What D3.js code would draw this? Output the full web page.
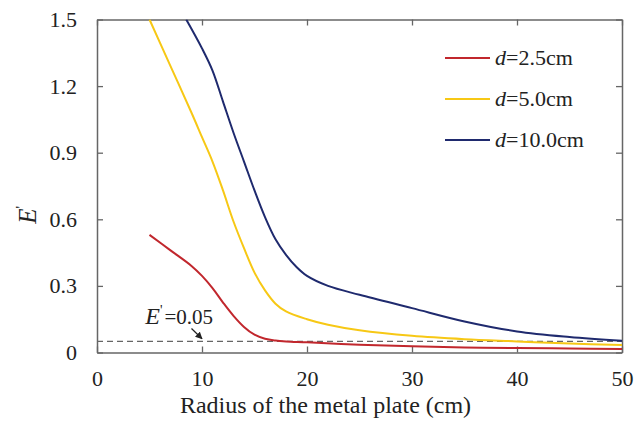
<!DOCTYPE html>
<html>
<head>
<meta charset="utf-8">
<script src="https://cdn.jsdelivr.net/npm/d3@7"></script>
</head>
<body style="margin:0; background:#fff">
<script>
const width = 637;
const height = 422;
const margin = { top: 19.5, right: 15, bottom: 69.5, left: 97 };

// x values (cm) and E' for each plate distance
const xRed = [5, 7, 9, 10, 11, 12, 13, 14, 15, 16, 17, 18, 20, 25, 30, 35, 40, 45, 50];
const yRed = [0.53, 0.46, 0.39, 0.345, 0.29, 0.225, 0.165, 0.115, 0.08, 0.062, 0.054, 0.05, 0.046, 0.035, 0.028, 0.023, 0.02, 0.018, 0.016];

const xYellow = [5, 7, 9, 10, 11, 12, 13, 14, 15, 16, 17, 18, 20, 22, 25, 30, 35, 40, 45, 50];
const yYellow = [1.5, 1.29, 1.08, 0.97, 0.86, 0.73, 0.59, 0.47, 0.36, 0.28, 0.22, 0.185, 0.15, 0.125, 0.1, 0.075, 0.06, 0.05, 0.04, 0.034];

const xBlue = [8.5, 10, 11, 12, 13, 14, 15, 16, 17, 18, 19, 20, 22, 25, 30, 35, 40, 45, 50];
const yBlue = [1.5, 1.37, 1.27, 1.13, 0.99, 0.86, 0.73, 0.61, 0.51, 0.44, 0.385, 0.345, 0.3, 0.26, 0.2, 0.14, 0.095, 0.07, 0.053];

const seriesNames = ['2.5cm', '5.0cm', '10.0cm'];
const colors = ['#c1272d', '#f7c815', '#1f2a6e'];

const xTicks = [0, 10, 20, 30, 40, 50];
const yTicks = [0, 0.3, 0.6, 0.9, 1.2, 1.5];
const threshold = 0.05;

const fontFamily = '"Liberation Serif"';

const series = [
  xRed.map((v, i) => ({ x: v, y: yRed[i] })),
  xYellow.map((v, i) => ({ x: v, y: yYellow[i] })),
  xBlue.map((v, i) => ({ x: v, y: yBlue[i] }))
];

const svg = d3.select('body')
  .append('svg')
  .attr('width', width)
  .attr('height', height);

const x = d3.scaleLinear().domain([0, 50]).range([margin.left, width - margin.right]);
const y = d3.scaleLinear().domain([0, 1.5]).range([height - margin.bottom, margin.top]);

const fmtY = (d) => d === 0 ? '0' : d3.format('.1f')(d);

svg.append('defs').append('clipPath')
  .attr('id', 'clip')
  .append('rect')
  .attr('x', x(0))
  .attr('y', y(1.5))
  .attr('width', x(50) - x(0))
  .attr('height', y(0) - y(1.5));

// axes, ticks inward on all four sides
const axisColor = '#666';
function styleAxis(g) {
  g.attr('font-family', null).attr('font-size', null);
  g.select('.domain').attr('stroke', axisColor).attr('stroke-width', 1.5);
  g.selectAll('.tick line').attr('stroke', axisColor).attr('stroke-width', 1.3);
}

svg.append('g')
  .attr('transform', `translate(0, ${y(0)})`)
  .call(d3.axisBottom(x).tickValues(xTicks).tickSizeInner(-6).tickSizeOuter(0).tickPadding(18))
  .call(styleAxis)
  .call((g) => g.selectAll('.tick text').attr('font-size', 22));

svg.append('g')
  .attr('transform', `translate(0, ${y(1.5)})`)
  .call(d3.axisTop(x).tickValues(xTicks).tickSizeInner(-6).tickSizeOuter(0).tickFormat(''))
  .call(styleAxis);

svg.append('g')
  .attr('transform', `translate(${x(0)}, 0)`)
  .call(d3.axisLeft(y).tickValues(yTicks).tickSizeInner(-6).tickSizeOuter(0).tickPadding(20).tickFormat(fmtY))
  .call(styleAxis)
  .call((g) => g.selectAll('.tick text').attr('font-size', 22));

svg.append('g')
  .attr('transform', `translate(${x(50)}, 0)`)
  .call(d3.axisRight(y).tickValues(yTicks).tickSizeInner(-6).tickSizeOuter(0).tickFormat(''))
  .call(styleAxis);

// threshold line
svg.append('line')
  .attr('x1', x(0))
  .attr('x2', x(50))
  .attr('y1', y(threshold))
  .attr('y2', y(threshold))
  .attr('stroke', '#666')
  .attr('stroke-width', 1.4)
  .attr('stroke-dasharray', '6,4');

// curves
const line = d3.line()
  .x((d) => x(d.x))
  .y((d) => y(d.y))
  .curve(d3.curveCatmullRom.alpha(0.5));

svg.append('g')
  .attr('clip-path', 'url(#clip)')
  .selectAll('path')
  .data(series)
  .enter()
  .append('path')
  .attr('d', line)
  .attr('fill', 'none')
  .attr('stroke', (d, i) => colors[i])
  .attr('stroke-width', 2);

// annotation E'=0.05 with arrow
const ann = svg.append('text')
  .attr('x', x(4.6))
  .attr('y', y(0.13))
  .attr('font-size', 21);
ann.append('tspan').attr('font-style', 'italic').attr('font-size', 24).text('E');
ann.append('tspan').attr('font-size', 14).attr('dy', -9).text("'");
ann.append('tspan').attr('dy', 9).attr('dx', 2).text('=0.05');

svg.append('defs').append('marker')
  .attr('id', 'arrow')
  .attr('viewBox', '0 0 10 10')
  .attr('refX', 9)
  .attr('refY', 5)
  .attr('markerWidth', 6)
  .attr('markerHeight', 6)
  .attr('orient', 'auto')
  .append('path')
  .attr('d', 'M0,0 L10,5 L0,10 z')
  .attr('fill', '#222');

svg.append('line')
  .attr('x1', x(9.0))
  .attr('y1', y(0.108))
  .attr('x2', x(10.0))
  .attr('y2', y(0.062))
  .attr('stroke', '#222')
  .attr('stroke-width', 1.2)
  .attr('marker-end', 'url(#arrow)');

// legend
const legend = svg.append('g');
seriesNames.forEach((name, i) => {
  const ly = 58 + i * 41;
  legend.append('line')
    .attr('x1', 445)
    .attr('x2', 490)
    .attr('y1', ly)
    .attr('y2', ly)
    .attr('stroke', colors[i])
    .attr('stroke-width', 2);
  const t = legend.append('text')
    .attr('x', 495)
    .attr('y', ly + 7)
    .attr('font-size', 22);
  t.append('tspan').attr('font-style', 'italic').text('d');
  t.append('tspan').text('=' + name);
});

// axis titles
svg.append('text')
  .attr('x', (x(0) + x(50)) / 2 - 34)
  .attr('y', 413)
  .attr('text-anchor', 'middle')
  .attr('font-size', 24)
  .text('Radius of the metal plate (cm)');

const yt = svg.append('text')
  .attr('transform', `translate(36, ${y(0.62)}) rotate(-90)`)
  .attr('text-anchor', 'middle')
  .attr('font-size', 25);
yt.append('tspan').attr('font-style', 'italic').text('E');
yt.append('tspan').attr('font-size', 14).attr('dy', -10).text("'");

// serif font on every text
svg.selectAll('text, tspan')
  .style('font-family', fontFamily)
  .attr('fill', '#222');
</script>
</body>
</html>
